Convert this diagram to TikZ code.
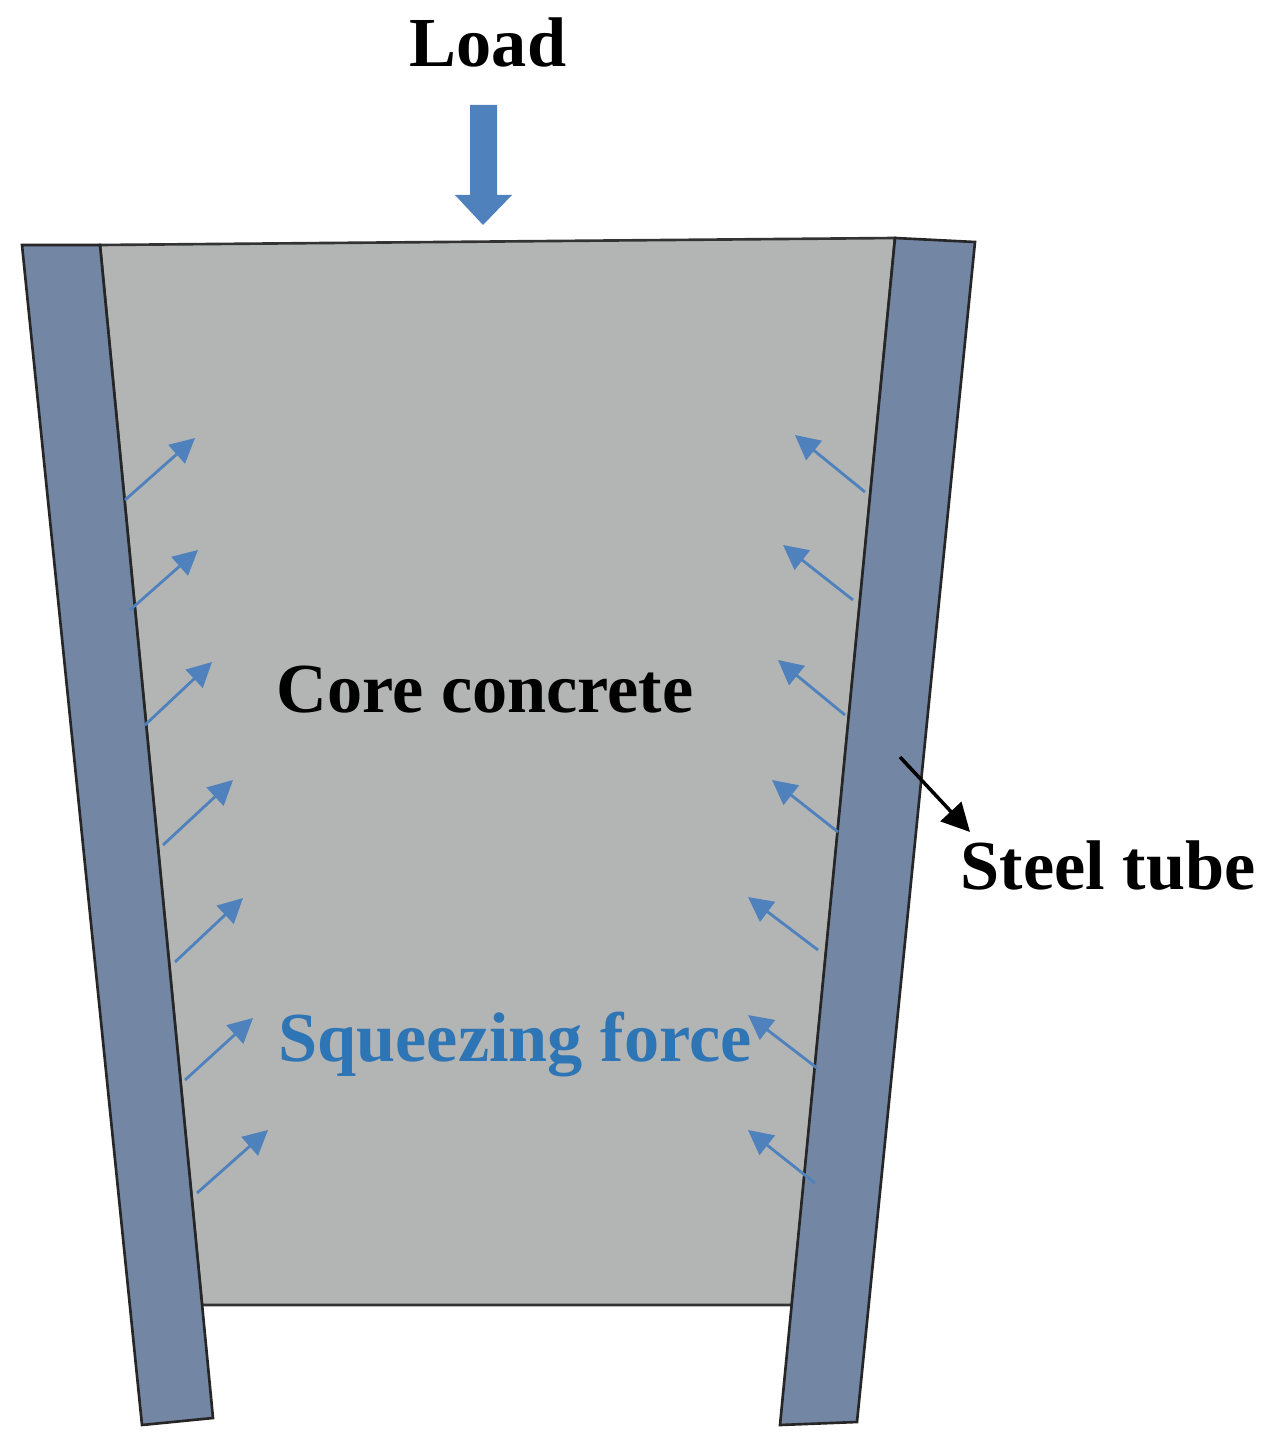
\documentclass[tikz,border=0pt]{standalone}
\usepackage{fontspec}
\setmainfont{Liberation Serif}
\usetikzlibrary{arrows.meta}
\definecolor{tube}{HTML}{7386A3}
\definecolor{conc}{HTML}{B3B5B4}
\definecolor{blu}{HTML}{4F81BD}
\definecolor{txtb}{HTML}{2E75B6}
\begin{document}
\begin{tikzpicture}[x=0.02cm,y=-0.02cm,
  sq/.style={blu,line width=1.6pt,-{Triangle[length=14pt,width=14pt]}},
  lab/.style={font=\fontsize{40}{44}\selectfont\bfseries,inner sep=0pt}]
\useasboundingbox (0,0) rectangle (1261,1446);
\fill[conc,draw=black!80,line width=1.5pt] (100,245) -- (895,238) -- (792,1305) -- (202,1305) -- cycle;
\fill[tube,draw=black!85,line width=1.5pt] (22,245) -- (100,245) -- (213,1418) -- (142,1425) -- cycle;
\fill[tube,draw=black!85,line width=1.5pt] (895,238) -- (975,242) -- (857,1422) -- (780,1425) -- cycle;
% load arrow
\fill[blu] (470,105) -- (497,105) -- (497,195) -- (512,195) -- (483,225) -- (455,195) -- (470,195) -- cycle;
\node[lab] (load) at (488,42) {Load};
\node[lab] (core) at (485,690) {Core concrete};
\node[lab] (steel) at (1108,866) {Steel tube};
\node[lab,text=txtb] (sq) at (515,1045) {Squeezing force};
\foreach \a/\b/\c/\d [count=\i] in {125/500/195/438,130/610/198/550,145/725/212/662,163/845/233/780,175/962/243/898,185/1080/253/1018,197/1193/268/1130,
 865/492/795/435,853/600/783/545,845/715/778/660,838/832/772/780,818/950/748/897,817/1068/748/1015,815/1183/748/1130}{
  \coordinate (s\i) at (\a,\b); \coordinate (e\i) at (\c,\d);
  \draw[sq] (s\i) -- (e\i);
}
\coordinate (ts) at (900,757); \coordinate (te) at (970,832);
\draw[black,line width=2pt,-{Triangle[length=16pt,width=16pt]}] (ts) -- (te);
\end{tikzpicture}
\end{document}
